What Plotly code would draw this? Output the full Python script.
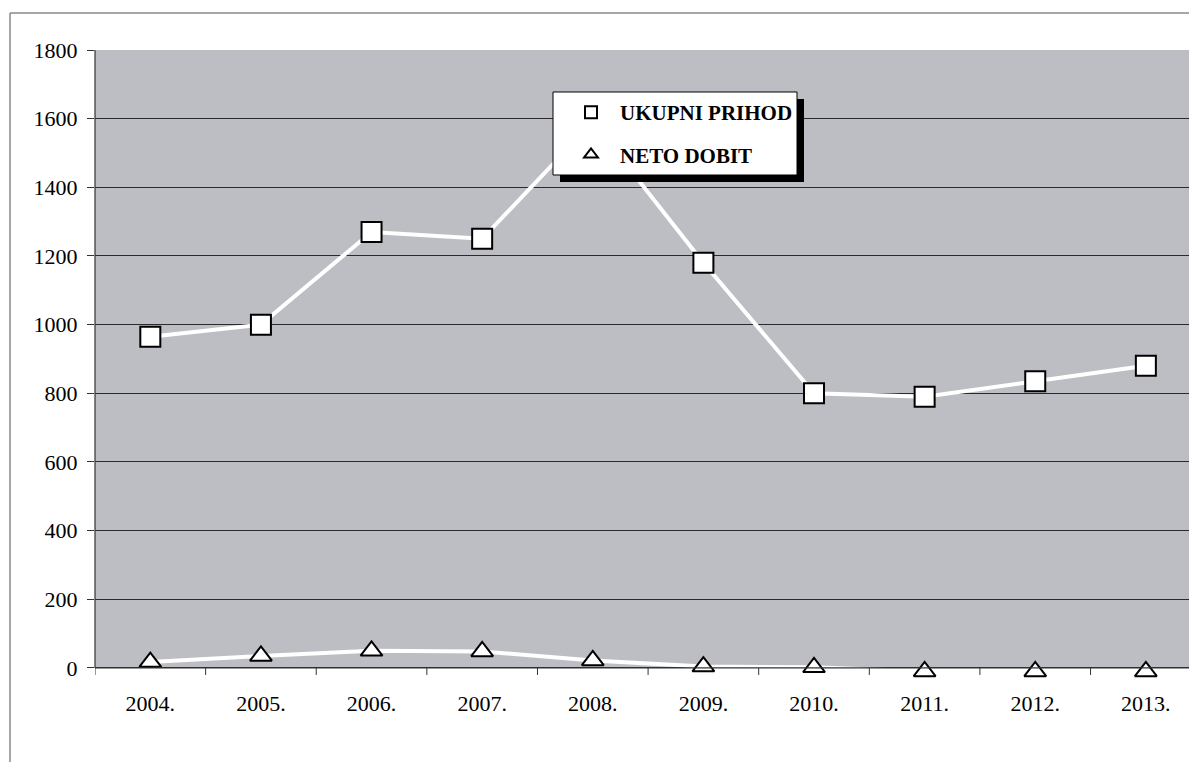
import plotly.graph_objects as go

years = ["2004.", "2005.", "2006.", "2007.", "2008.", "2009.", "2010.", "2011.", "2012.", "2013."]
ukupni_prihod = [965, 1000, 1270, 1250, 1590, 1180, 800, 790, 835, 880]
neto_dobit = [17, 35, 50, 48, 22, 4, 2, -10, -10, -10]
y_ticks = [0, 200, 400, 600, 800, 1000, 1200, 1400, 1600, 1800]

W, H = 1189, 762
Y_MIN_EXT = -38  # extra room below zero so the negative markers remain visible
top_px, zero_px = 50, 668
unit = (zero_px - top_px) / 1800.0
bottom_px = zero_px - Y_MIN_EXT * unit
L, R, T, B = 95, 0, top_px, H - bottom_px

pw = W - L - R
ph = H - T - B
def px(x):
    return (x - L) / pw
def py(y):
    return (H - B - y) / ph

fig = go.Figure()
fig.add_trace(go.Scatter(
    x=list(range(len(years))), y=ukupni_prihod, name="UKUPNI PRIHOD",
    mode="lines+markers", legendgroup="a",
    line=dict(color="white", width=4),
    marker=dict(symbol="square", size=20, color="white", line=dict(color="black", width=2)),
    cliponaxis=False,
))
fig.add_trace(go.Scatter(
    x=list(range(len(years))), y=neto_dobit, name="NETO DOBIT",
    mode="lines+markers", legendgroup="b",
    line=dict(color="white", width=4),
    marker=dict(symbol="triangle-up", size=19, color="white", line=dict(color="black", width=2)),
    cliponaxis=False,
))

axis_col = "#333333"
shapes = [
    # gray plot area (0..1800)
    dict(type="rect", xref="paper", yref="y", x0=0, x1=1, y0=0, y1=1800,
         fillcolor="#bdbec4", line=dict(width=0), layer="below"),
    # axis lines
    dict(type="line", xref="paper", yref="y", x0=0, x1=1, y0=0, y1=0,
         line=dict(color=axis_col, width=1.2), layer="above"),
    dict(type="line", xref="paper", yref="y", x0=0, x1=0, y0=0, y1=1800,
         line=dict(color=axis_col, width=1.2), layer="above"),
    # outer border lines
    dict(type="line", xref="paper", yref="paper", x0=px(10), x1=px(W + 5), y0=py(13), y1=py(13),
         line=dict(color="#8a8a8a", width=1.5), layer="below"),
    dict(type="line", xref="paper", yref="paper", x0=px(10), x1=px(10), y0=py(13), y1=py(H + 5),
         line=dict(color="#8a8a8a", width=1.5), layer="below"),
    # legend shadow and box
    dict(type="rect", xref="paper", yref="paper", x0=px(560), x1=px(804), y0=py(99), y1=py(182),
         fillcolor="black", line=dict(width=0), layer="above"),
    dict(type="rect", xref="paper", yref="paper", x0=px(553), x1=px(797), y0=py(92), y1=py(175),
         fillcolor="white", line=dict(color="black", width=1), layer="above"),
]

# category separator tick marks on x axis
for i in range(len(years) + 1):
    xv = i - 0.5
    shapes.append(dict(type="line", xref="x", yref="y", x0=xv, x1=xv, y0=0, y1=-7 / unit,
                       line=dict(color=axis_col, width=1), layer="above"))

fig.update_layout(
    width=W, height=H,
    margin=dict(l=L, r=R, t=T, b=B, pad=0),
    paper_bgcolor="white",
    plot_bgcolor="white",
    font=dict(family="Liberation Serif", color="black", size=22),
    showlegend=True,
    legend=dict(
        x=px(562), y=py(92), xanchor="left", yanchor="top",
        bgcolor="rgba(0,0,0,0)", borderwidth=0,
        font=dict(family="Liberation Serif", size=21, color="black", weight="bold"),
        tracegroupgap=12, itemsizing="constant", itemwidth=48,
    ),
    xaxis=dict(
        range=[-0.5, 9.39],
        tickmode="array", tickvals=list(range(len(years))), ticktext=years,
        tickfont=dict(size=22),
        showgrid=False, zeroline=False, showline=False,
        ticks="", ticklabelstandoff=7,
    ),
    yaxis=dict(
        range=[Y_MIN_EXT, 1800],
        tickmode="array", tickvals=y_ticks,
        tickfont=dict(size=22),
        showgrid=True, gridcolor="#2a2a2a", gridwidth=1,
        zeroline=False, showline=False,
        ticks="outside", ticklen=7, tickcolor=axis_col,
        ticklabelstandoff=5,
    ),
    shapes=shapes,
)

fig.write_html("out.html", config={"displayModeBar": False},
               post_script="document.body.style.margin='0';")
